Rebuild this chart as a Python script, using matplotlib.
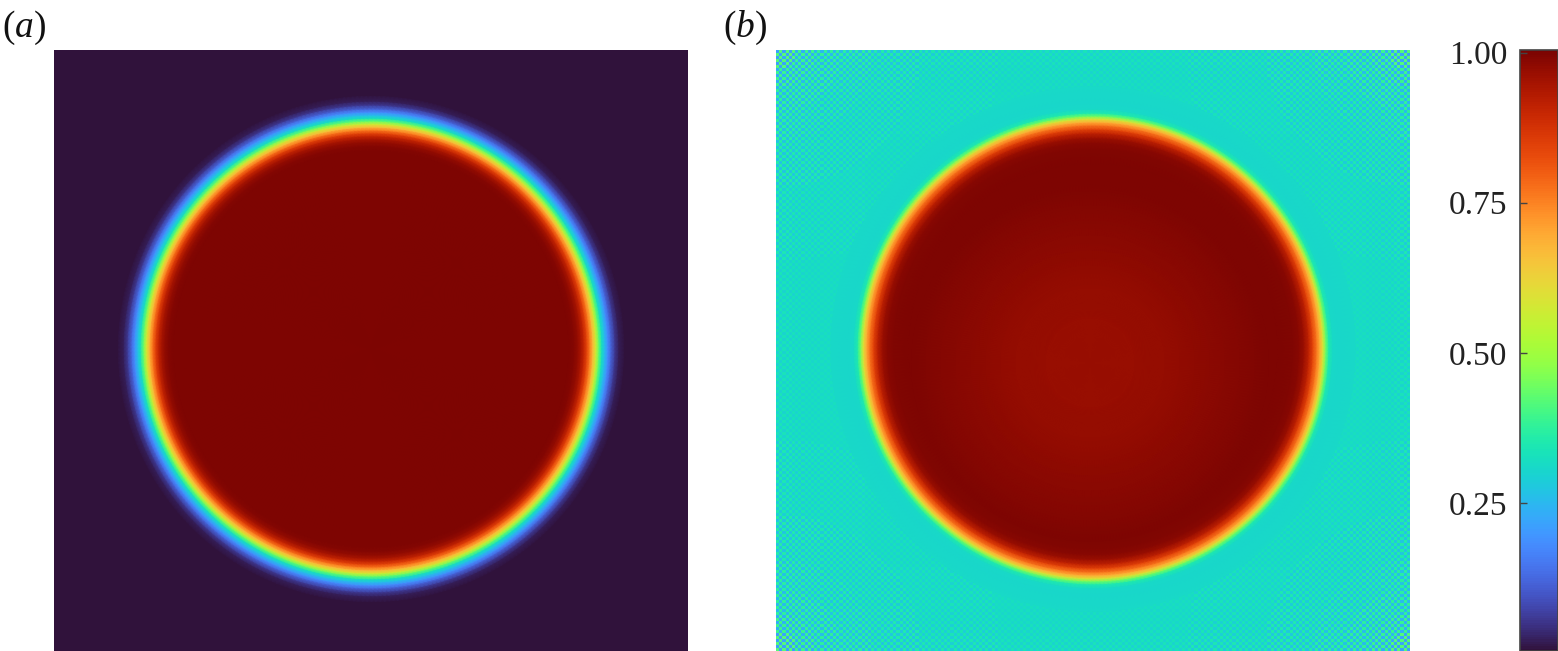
import numpy as np
import matplotlib
matplotlib.use("Agg")
import matplotlib.pyplot as plt
from matplotlib.colors import Normalize
from matplotlib.cm import ScalarMappable

plt.rcParams['font.family'] = ['Liberation Serif', 'DejaVu Serif']
plt.rcParams['mathtext.fontset'] = 'custom'
plt.rcParams['mathtext.it'] = 'Liberation Serif:italic'
plt.rcParams['mathtext.rm'] = 'Liberation Serif'

W = 1558
H = 651
VMIN = 0.003
VMAX = 1.0045

# radial profiles, radius in image pixels
radius_a = [0, 198, 203, 207, 210, 213, 216, 219, 222, 225, 228, 231, 234, 237, 240, 244, 248, 254, 262]
phase_a = [1.0, 1.0, 0.99, 0.97, 0.945, 0.9, 0.84, 0.76, 0.67, 0.57, 0.43, 0.32, 0.25, 0.18, 0.12, 0.055, 0.02, 0.005, 0.003]

radius_b = [0, 185, 200, 206, 211, 216, 220, 224, 227, 230, 233, 236, 240, 246, 262]
phase_b = [1.0, 1.0, 0.995, 0.985, 0.965, 0.91, 0.84, 0.76, 0.69, 0.59, 0.44, 0.35, 0.31, 0.305, 0.31]

# inner part of panel b, its lightest point sits a little below the middle
radius_core = [0, 15, 30, 45, 60, 75, 90, 105, 120, 135, 150, 165, 178]
phase_core = [0.966, 0.966, 0.967, 0.968, 0.97, 0.972, 0.975, 0.978, 0.982, 0.986, 0.99, 0.995, 1.0]

# panel b background and the checker noise near its edges
background_b = 0.315
cells_b = 200
edge_bins = [0, 2, 5, 9, 14, 20, 28]
edge_noise = [0.018, 0.014, 0.011, 0.008, 0.005, 0.003, 0.0]
corner_bins = [0, 6, 12, 20, 30, 45, 70]
corner_noise = [0.085, 0.06, 0.045, 0.035, 0.025, 0.012, 0.0]

cbar_ticks = [0.25, 0.5, 0.75, 1.0]
cbar_labels = ['0.25', '0.50', '0.75', '1.00']

smooth_turbo = plt.get_cmap('turbo', 2048)


def add_axes_px(fig, x0, y0, x1, y1):
    return fig.add_axes([x0 / W, 1 - y1 / H, (x1 - x0) / W, (y1 - y0) / H])


def draw_rings(ax, radius, values, norm, center=(0, 0), zorder=2):
    t = np.radians(np.arange(0, 361, 1))
    r = np.array(radius)
    x = center[0] + np.outer(r, np.cos(t))
    y = center[1] + np.outer(r, np.sin(t))
    c = np.repeat(np.array(values)[:, None], len(t), axis=1)
    ax.pcolormesh(x, y, c, shading='gouraud', cmap=smooth_turbo, norm=norm, zorder=zorder)


def checker_field():
    n = cells_b
    i, j = np.meshgrid(np.arange(n), np.arange(n))
    sign = (-1.0) ** (i + j)
    to_edge = np.minimum(np.minimum(i, n - 1 - i), np.minimum(j, n - 1 - j))
    to_corner = np.hypot(np.minimum(i, n - 1 - i), np.minimum(j, n - 1 - j))
    e = np.searchsorted(edge_bins, to_edge, side='right') - 1
    k = np.searchsorted(corner_bins, to_corner, side='right') - 1
    amp = np.array(edge_noise)[e] + np.array(corner_noise)[k]
    return background_b + sign * amp


norm = Normalize(VMIN, VMAX)
fig = plt.figure(figsize=(W / 100, H / 100), dpi=100)

# panel a
ax_a = add_axes_px(fig, 54, 50, 688, 651)
ax_a.set_xlim(54 - 371, 688 - 371)
ax_a.set_ylim(349 - 651, 349 - 50)
ax_a.set_facecolor(plt.get_cmap('turbo')(norm(VMIN)))
draw_rings(ax_a, radius_a, phase_a, norm)
ax_a.set_xticks([])
ax_a.set_yticks([])
for s in ax_a.spines.values():
    s.set_visible(False)

# panel b
ax_b = add_axes_px(fig, 776, 50, 1410, 651)
ax_b.set_xlim(776 - 1093, 1410 - 1093)
ax_b.set_ylim(349 - 651, 349 - 50)
x_edges = np.linspace(776 - 1093, 1410 - 1093, cells_b + 1)
y_edges = np.linspace(349 - 651, 349 - 50, cells_b + 1)
ax_b.pcolormesh(x_edges, y_edges, checker_field(), cmap='turbo', norm=norm, zorder=1)
draw_rings(ax_b, radius_b, phase_b, norm)
draw_rings(ax_b, radius_core, phase_core, norm, center=(-3, -14), zorder=3)
ax_b.set_xticks([])
ax_b.set_yticks([])
for s in ax_b.spines.values():
    s.set_visible(False)

# colour bar
cax = add_axes_px(fig, 1520, 50, 1558, 651)
cb = fig.colorbar(ScalarMappable(norm=norm, cmap='turbo'), cax=cax)
cb.set_ticks(cbar_ticks)
cb.set_ticklabels(cbar_labels)
cax.yaxis.set_ticks_position('left')
cax.tick_params(axis='y', direction='in', length=5, width=1, color='#444444',
                labelsize=24, labelcolor='#222222', pad=9)
cb.outline.set_edgecolor('#444444')
cb.outline.set_linewidth(1.2)

fig.text(2 / W, 1 - 28 / H, r'($\mathit{a}$)', fontsize=27, va='center', ha='left', color='#111111')
fig.text(723 / W, 1 - 28 / H, r'($\mathit{b}$)', fontsize=27, va='center', ha='left', color='#111111')

fig.savefig('out.png', dpi=100)
